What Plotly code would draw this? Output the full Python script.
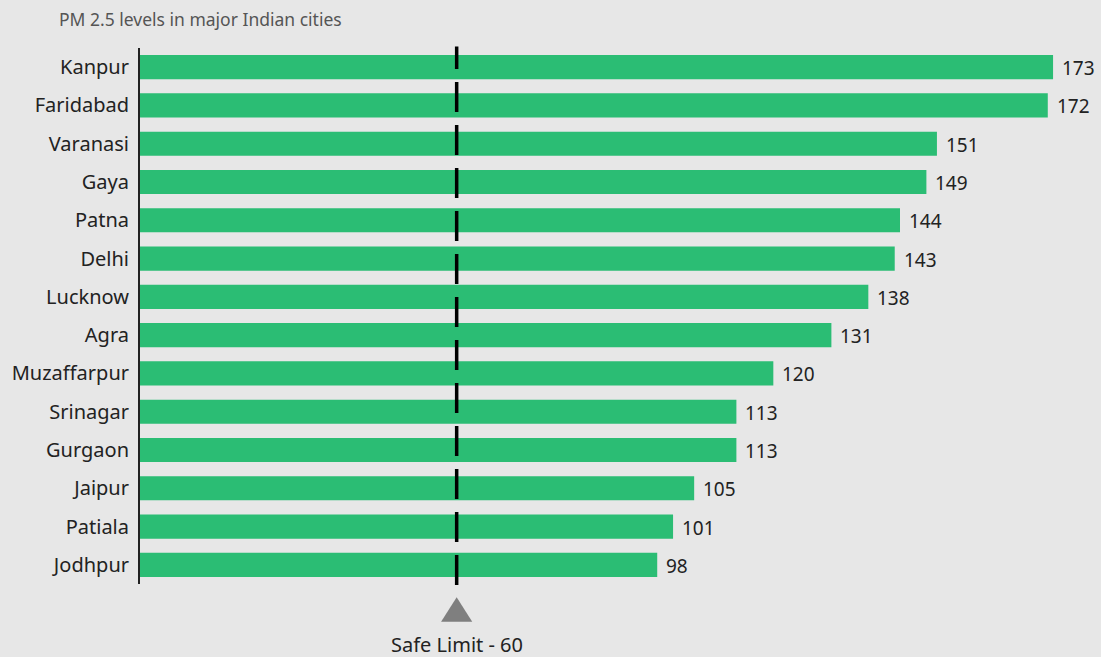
import plotly.graph_objects as go

cities = ["Kanpur", "Faridabad", "Varanasi", "Gaya", "Patna", "Delhi", "Lucknow",
          "Agra", "Muzaffarpur", "Srinagar", "Gurgaon", "Jaipur", "Patiala", "Jodhpur"]
pm25 = [173, 172, 151, 149, 144, 143, 138, 131, 120, 113, 113, 105, 101, 98]
safe_limit = 60

FONT = "Noto Sans"
BG = "#e7e7e7"
BAR = "#2bbd74"
TXT = "#222"

fig = go.Figure()
fig.add_trace(go.Bar(
    x=pm25, y=cities, orientation="h",
    marker=dict(color=BAR, line=dict(width=0)),
    width=0.63, hoverinfo="skip",
))

# value labels just past each bar end
for c, v in zip(cities, pm25):
    fig.add_annotation(x=v, y=c, text=str(v), showarrow=False, xanchor="left",
                       xshift=7, yshift=-1, font=dict(family=FONT, size=19, color=TXT))

# safe-limit marker: dashed line, triangle and caption
fig.add_shape(type="line", xref="x", yref="paper", x0=safe_limit, x1=safe_limit,
              y0=-0.002, y1=1.003, line=dict(color="black", width=3.5, dash="30px,13px"))
fig.add_shape(type="path", xref="x", yref="paper",
              path=f"M {safe_limit-2.95},-0.0705 L {safe_limit+2.95},-0.0705 L {safe_limit},-0.0245 Z",
              fillcolor="#7f7f7f", line=dict(width=0))
fig.add_annotation(x=safe_limit, y=-0.112, xref="x", yref="paper", text=f"Safe Limit - {safe_limit}",
                   showarrow=False, yanchor="middle", xanchor="center",
                   font=dict(family=FONT, size=20, color=TXT))

fig.update_layout(
    width=1101, height=657,
    margin=dict(l=140, r=11, t=48, b=73),
    paper_bgcolor=BG, plot_bgcolor=BG,
    showlegend=False,
    bargap=0.37,
    title=dict(text="PM 2.5 levels in major Indian cities", x=59/1101, xanchor="left",
               y=1 - 20/657, yanchor="middle", font=dict(family=FONT, size=17.5, color="#555")),
    xaxis=dict(range=[0, 180], visible=False, fixedrange=True),
    yaxis=dict(categoryorder="array", categoryarray=cities[::-1], range=[-0.5, 13.5],
               showline=True, linecolor="#222", linewidth=2, showgrid=False, zeroline=False,
               ticks="outside", ticklen=5, tickcolor="rgba(0,0,0,0)",
               tickfont=dict(family=FONT, size=20, color=TXT)),
)

fig.write_html("out.html")
